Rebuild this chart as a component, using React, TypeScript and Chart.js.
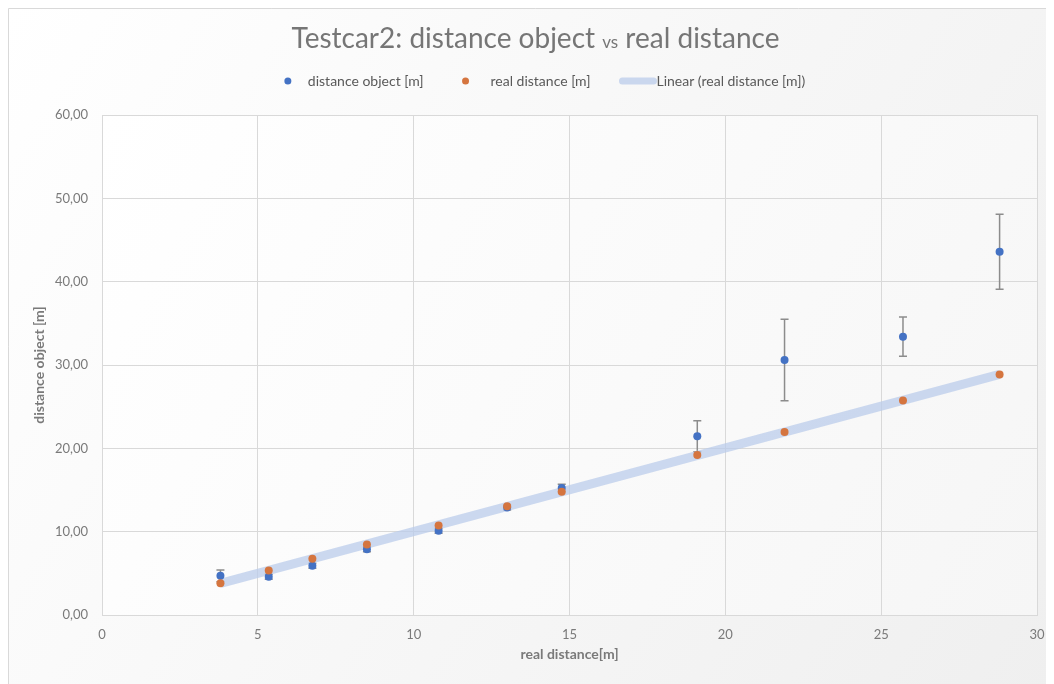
import React, { useEffect, useRef } from "react";
import { Chart, registerables } from "chart.js";

Chart.register(...registerables);

// ---- data ----
const realDistance = [3.8, 5.35, 6.75, 8.5, 10.8, 13.0, 14.75, 19.1, 21.9, 25.7, 28.8];
const distanceObject = [4.7, 4.6, 5.9, 7.9, 10.1, 12.9, 15.25, 21.45, 30.6, 33.4, 43.6];
const distanceObjectError = [0.7, 0.3, 0.3, 0.3, 0.3, 0.3, 0.45, 1.85, 4.9, 2.35, 4.5];
const realDistanceY = [3.8, 5.35, 6.75, 8.45, 10.75, 13.05, 14.8, 19.2, 21.95, 25.75, 28.85];

const yTicks = [0, 10, 20, 30, 40, 50, 60];
const xTicks = [0, 5, 10, 15, 20, 25, 30];

const titleMain1 = "Testcar2: distance object ";
const titleSmall = "vs";
const titleMain2 = " real distance";
const seriesNames = ["distance object [m]", "real distance [m]", "Linear (real distance [m])"];
const xTitle = "real distance[m]";
const yTitle = "distance object [m]";

const BLUE = "#4472C4";
const ORANGE = "#D5753F";
const TREND = "rgba(184, 202, 234, 0.72)";
const FONT = "Lato, 'Open Sans', sans-serif";

function linearFit(xs: number[], ys: number[]) {
  const n = xs.length;
  const mx = xs.reduce((a, b) => a + b, 0) / n;
  const my = ys.reduce((a, b) => a + b, 0) / n;
  let sxy = 0, sxx = 0;
  for (let i = 0; i < n; i++) {
    sxy += (xs[i] - mx) * (ys[i] - my);
    sxx += (xs[i] - mx) * (xs[i] - mx);
  }
  const b = sxy / sxx;
  return { a: my - b * mx, b };
}

export default function App() {
  const ref = useRef<HTMLCanvasElement | null>(null);

  useEffect(() => {
    document.body.style.overflow = "hidden";
    if (!ref.current) return;
    const fit = linearFit(realDistance, realDistanceY);
    const xmin = Math.min(...realDistance);
    const xmax = Math.max(...realDistance);

    const backgroundPlugin = {
      id: "bg",
      beforeDraw(chart: any) {
        const { ctx, width, height } = chart;
        ctx.save();
        const g = ctx.createLinearGradient(0, 0, width, height);
        g.addColorStop(0, "#ffffff");
        g.addColorStop(1, "#efefef");
        ctx.fillStyle = g;
        ctx.fillRect(0, 0, width, height);
        ctx.strokeStyle = "#d9d9d9";
        ctx.lineWidth = 1;
        ctx.beginPath();
        ctx.moveTo(0.5, height);
        ctx.lineTo(0.5, 0.5);
        ctx.lineTo(width, 0.5);
        ctx.stroke();
        const a = chart.chartArea;
        const g2 = ctx.createLinearGradient(a.left, a.top, a.right, a.bottom);
        g2.addColorStop(0, "#ffffff");
        g2.addColorStop(1, "#f6f6f6");
        ctx.fillStyle = g2;
        ctx.fillRect(a.left, a.top, a.right - a.left, a.bottom - a.top);
        ctx.restore();
      },
    };

    const errorBarPlugin = {
      id: "errbars",
      beforeDatasetsDraw(chart: any) {
        const { ctx } = chart;
        const xs = chart.scales.x;
        const ys = chart.scales.y;
        ctx.save();
        ctx.strokeStyle = "#8c8c8c";
        ctx.lineWidth = 1.5;
        for (let i = 0; i < realDistance.length; i++) {
          const px = xs.getPixelForValue(realDistance[i]);
          const top = ys.getPixelForValue(distanceObject[i] + distanceObjectError[i]);
          const bot = ys.getPixelForValue(distanceObject[i] - distanceObjectError[i]);
          ctx.beginPath();
          ctx.moveTo(px, top);
          ctx.lineTo(px, bot);
          ctx.moveTo(px - 4, top);
          ctx.lineTo(px + 4, top);
          ctx.moveTo(px - 4, bot);
          ctx.lineTo(px + 4, bot);
          ctx.stroke();
        }
        ctx.restore();
      },
    };

    const titleLegendPlugin = {
      id: "titleLegend",
      afterDraw(chart: any) {
        const { ctx } = chart;
        ctx.save();
        // title
        const bigFont = `28px ${FONT}`;
        const smallFont = `17px ${FONT}`;
        ctx.font = bigFont;
        const w1 = ctx.measureText(titleMain1).width;
        const w3 = ctx.measureText(titleMain2).width;
        ctx.font = smallFont;
        const w2 = ctx.measureText(titleSmall).width;
        const total = w1 + w2 + w3;
        let x = 527.5 - total / 2;
        const baseY = 40;
        ctx.fillStyle = "#767676";
        ctx.textBaseline = "alphabetic";
        ctx.textAlign = "left";
        ctx.font = bigFont;
        ctx.fillText(titleMain1, x, baseY);
        x += w1;
        ctx.font = smallFont;
        ctx.fillText(titleSmall, x, baseY);
        x += w2;
        ctx.font = bigFont;
        ctx.fillText(titleMain2, x, baseY);

        // legend
        ctx.font = `14px ${FONT}`;
        ctx.textBaseline = "middle";
        ctx.fillStyle = "#595959";
        const ly = 73;
        const t0 = ctx.measureText(seriesNames[0]).width;
        const t1 = ctx.measureText(seriesNames[1]).width;
        const t2 = ctx.measureText(seriesNames[2]).width;
        const dotGap = 20;
        const itemGap = 42;
        const lineW = 37;
        const legendW = dotGap + t0 + itemGap + dotGap + 5 + t1 + 29 + lineW + t2;
        let lx = 538.5 - legendW / 2;
        // item 1
        ctx.fillStyle = BLUE;
        ctx.beginPath();
        ctx.arc(lx, ly, 3.5, 0, Math.PI * 2);
        ctx.fill();
        ctx.fillStyle = "#595959";
        ctx.fillText(seriesNames[0], lx + dotGap, ly);
        lx += dotGap + t0 + itemGap;
        // item 2
        ctx.fillStyle = ORANGE;
        ctx.beginPath();
        ctx.arc(lx, ly, 3.5, 0, Math.PI * 2);
        ctx.fill();
        ctx.fillStyle = "#595959";
        ctx.fillText(seriesNames[1], lx + dotGap + 5, ly);
        lx += dotGap + 5 + t1 + 29;
        // item 3
        ctx.strokeStyle = TREND;
        ctx.lineWidth = 7;
        ctx.lineCap = "round";
        ctx.beginPath();
        ctx.moveTo(lx + 3, ly);
        ctx.lineTo(lx + lineW - 3, ly);
        ctx.stroke();
        ctx.fillStyle = "#595959";
        ctx.fillText(seriesNames[2], lx + lineW, ly);
        ctx.restore();
      },
    };

    const chart = new Chart(ref.current, {
      type: "scatter",
      data: {
        datasets: [
          {
            label: seriesNames[0],
            data: realDistance.map((x, i) => ({ x, y: distanceObject[i] })),
            backgroundColor: BLUE,
            borderColor: BLUE,
            pointRadius: 4,
            pointBorderWidth: 0,
            order: 2,
          },
          {
            label: seriesNames[1],
            data: realDistance.map((x, i) => ({ x, y: realDistanceY[i] })),
            backgroundColor: ORANGE,
            borderColor: ORANGE,
            pointRadius: 4,
            pointBorderWidth: 0,
            order: 1,
          },
          {
            type: "line",
            label: seriesNames[2],
            data: [
              { x: xmin, y: fit.a + fit.b * xmin },
              { x: xmax, y: fit.a + fit.b * xmax },
            ],
            borderColor: TREND,
            borderWidth: 9,
            pointRadius: 0,
            fill: false,
            showLine: true,
            order: 3,
          } as any,
        ],
      },
      options: {
        animation: false,
        responsive: false,
        maintainAspectRatio: false,
        layout: { padding: { left: 20, top: 107, right: 25, bottom: 18 } },
        plugins: {
          legend: { display: false },
          title: { display: false },
          tooltip: { enabled: false },
        },
        scales: {
          x: {
            type: "linear",
            min: 0,
            max: 30,
            afterBuildTicks(scale: any) {
              scale.ticks = xTicks.map((v) => ({ value: v }));
            },
            afterFit(scale: any) {
              scale.height = 51;
              scale.paddingRight = 0;
              scale.paddingLeft = 0;
            },
            ticks: {
              padding: 12,
              color: "#7a7a7a",
              font: { family: FONT, size: 13 },
              callback: (v: any) => String(v),
            },
            grid: { color: "#d9d9d9", drawTicks: false, lineWidth: 1 },
            border: { color: "#d9d9d9" },
            title: {
              display: true,
              text: xTitle,
              color: "#7a7a7a",
              font: { family: FONT, size: 14, weight: "bold" },
              padding: 3,
            },
          },
          y: {
            type: "linear",
            min: 0,
            max: 60,
            afterBuildTicks(scale: any) {
              scale.ticks = yTicks.map((v) => ({ value: v }));
            },
            afterFit(scale: any) {
              scale.width = 74;
            },
            ticks: {
              padding: 14,
              color: "#7a7a7a",
              font: { family: FONT, size: 13 },
              callback: (v: any) => Number(v).toFixed(2).replace(".", ","),
            },
            grid: { color: "#d9d9d9", drawTicks: false, lineWidth: 1 },
            border: { color: "#d9d9d9" },
            title: {
              display: true,
              text: yTitle,
              color: "#7a7a7a",
              font: { family: FONT, size: 14, weight: "bold" },
              padding: 3,
            },
          },
        },
      },
      plugins: [backgroundPlugin, errorBarPlugin, titleLegendPlugin],
    } as any);

    return () => chart.destroy();
  }, []);

  return (
    <div style={{ width: 1054, height: 676 }}>
      <canvas ref={ref} width={1054} height={676} style={{ display: "block" }} />
    </div>
  );
}
